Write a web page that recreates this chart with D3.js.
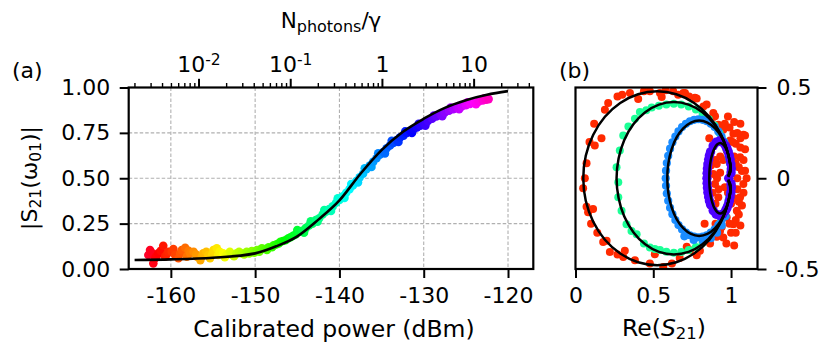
<!DOCTYPE html>
<html><head><meta charset="utf-8">
<style>body{margin:0;background:#fff}</style>
</head><body>
<svg width="822" height="344" font-family="DejaVu Sans"></svg>
<script src="https://cdn.jsdelivr.net/npm/d3@7"></script>
<script>
// ---- panel (a): |S21| against calibrated power ----
var lowDots = [[-162.67,0.077],[-162.47,0.104],[-162.3,0.09],[-162.08,0.031],[-161.88,0.059],[-161.7,0.07],[-161.49,0.086],[-161.2,0.10],[-160.9,0.128],[-160.69,0.068],[-160.5,0.08],[-160.3,0.095],[-159.9,0.095],[-159.7,0.11],[-159.5,0.077],[-159.1,0.059],[-158.9,0.085],[-158.7,0.104],[-158.3,0.117],[-158.1,0.068],[-157.9,0.10],[-157.7,0.086],[-157.3,0.095],[-157.0,0.08],[-156.9,0.068],[-156.5,0.049],[-156.3,0.07],[-156.15,0.086],[-155.8,0.095],[-155.55,0.077],[-155.35,0.059],[-155.1,0.08],[-154.95,0.104],[-154.55,0.114],[-154.4,0.077],[-154.2,0.095],[-153.8,0.086],[-153.6,0.065],[-153.4,0.077],[-153.0,0.095],[-152.8,0.080],[-152.5,0.07],[-152.2,0.086],[-151.9,0.095],[-151.6,0.086],[-151.3,0.08],[-151.0,0.095],[-150.7,0.085],[-150.4,0.099],[-150.1,0.09],[-149.8,0.104],[-149.5,0.095],[-149.2,0.114],[-148.8,0.110],[-148.6,0.105],[-148.4,0.120],[-148.0,0.12],[-147.8,0.130],[-147.5,0.135],[-147.2,0.141],[-147.0,0.15],[-146.7,0.154],[-146.4,0.158],[-146.1,0.168],[-145.8,0.175],[-145.5,0.183]];
var bandDots = [[-145.2,0.19],[-145.0,0.215],[-144.8,0.205],[-144.4,0.21],[-144.2,0.20],[-144.0,0.225],[-143.6,0.24],[-143.4,0.263],[-143.2,0.25],[-142.8,0.27],[-142.6,0.26],[-142.4,0.28],[-142.0,0.30],[-141.8,0.325],[-141.6,0.315],[-141.2,0.33],[-141.0,0.32],[-140.8,0.345],[-140.4,0.365],[-140.2,0.39],[-140.0,0.38],[-139.6,0.40],[-139.4,0.392],[-139.2,0.42],[-138.8,0.44],[-138.6,0.468],[-138.4,0.46],[-138.0,0.485],[-137.8,0.477],[-137.6,0.505],[-137.2,0.525],[-137.0,0.555],[-136.8,0.55],[-136.4,0.57],[-136.2,0.562],[-136.0,0.59],[-135.6,0.61],[-135.4,0.638],[-135.2,0.63],[-134.8,0.645],[-134.6,0.637],[-134.4,0.665],[-134.0,0.68],[-133.8,0.706],[-133.6,0.695],[-133.2,0.71],[-133.0,0.70],[-132.8,0.725],[-132.4,0.735],[-132.2,0.758],[-132.0,0.75],[-131.6,0.76],[-131.4,0.75],[-131.2,0.77],[-130.8,0.78],[-130.6,0.80],[-130.4,0.79],[-130.0,0.80],[-129.8,0.79],[-129.5,0.815],[-129.0,0.828],[-128.8,0.846],[-128.5,0.84],[-128.0,0.85],[-127.8,0.842],[-127.5,0.862],[-127.0,0.872],[-126.8,0.89],[-126.5,0.88],[-126.0,0.888],[-125.8,0.88],[-125.5,0.896],[-125.0,0.903],[-124.8,0.918],[-124.5,0.91],[-124.0,0.916],[-123.8,0.908],[-123.5,0.922],[-123.0,0.928],[-122.8,0.94],[-122.6,0.933],[-122.3,0.936]];
var fitA = [[-164.3,0.050],[-160,0.053],[-155,0.062],[-150,0.086],[-147.5,0.125],[-145,0.180],[-142.5,0.272],[-140,0.378],[-137.5,0.525],[-135,0.655],[-132.5,0.755],[-130,0.828],[-127.5,0.888],[-125,0.930],[-122.5,0.960],[-120,0.980]];
var powerTicks = [-160, -150, -140, -130, -120];
var magTicks = [0, 0.25, 0.5, 0.75, 1];
var photonTicks = [0.01, 0.1, 1, 10];
var photonLabels = [["10","-2"],["10","-1"],["1",""],["10",""]];

// ---- panel (b): S21 in the complex plane ----
var redDots = [[0.21,0.415],[0.189,0.378],[0.35,0.47],[0.403,0.437],[0.478,0.479],[0.543,0.47],[0.628,0.479],[0.693,0.47],[0.768,0.443],[0.822,0.396],[0.886,0.36],[0.918,0.295],[0.95,0.267],[0.167,0.221],[0.071,0.083],[0.049,-0.055],[0.071,-0.157],[0.178,-0.351],[0.221,-0.406],[0.307,-0.434],[0.382,-0.452],[0.478,-0.47],[0.564,-0.489],[0.715,-0.378],[0.779,-0.424],[0.843,-0.341],[0.908,-0.323],[0.94,-0.268],[0.554,0.448],[0.124,0.18],[0.081,-0.188],[0.113,-0.17],[0.2,-0.345],[0.317,-0.4],[0.51,-0.419],[0.27,0.45],[0.12,0.3],[0.09,0.2],[0.06,0.0],[0.1,-0.25],[0.14,-0.3],[0.27,-0.42],[0.62,-0.47],[0.67,-0.44],[0.3,0.46],[0.44,0.48],[0.58,0.485],[0.66,0.46],[0.73,0.45],[0.704,0.47],[0.843,0.406],[0.897,0.341],[1.079,0.24],[0.736,-0.397],[0.865,-0.36],[1.09,0.236],[1.015,0.245],[1.058,0.116],[1.09,0.042],[1.079,-0.032],[1.058,-0.105],[1.037,-0.179],[1.015,-0.253],[0.908,0.079],[0.897,-0.032],[0.918,-0.105],[0.886,0.024],[0.972,0.153],[0.972,-0.216],[0.929,-0.29],[0.95,-0.326],[0.8,-0.4],[0.779,0.439],[0.886,0.338],[0.94,0.273],[0.994,0.208],[1.03,0.19],[1.05,0.06],[1.04,-0.06],[1.02,0.12],[1.0,-0.14],[1.03,-0.23],[1.06,0.17],[0.99,0.28],[1.04,0.0],[1.07,-0.15],[1.0,0.05],[0.96,-0.05],[0.93,0.03],[0.9,0.1],[0.92,-0.06],[0.88,-0.08],[0.95,0.1],[1.01,-0.05],[1.06,0.22],[1.02,0.31],[0.98,0.34],[1.05,-0.2],[1.0,-0.3],[0.97,-0.36],[0.9,-0.25],[0.87,-0.15],[1.08,0.1],[1.1,0.0],[1.06,-0.26],[0.92,0.2],[1.03,0.08],[1.07,0.04],[1.02,-0.11],[1.05,-0.13],[1.08,-0.08],[1.04,0.25],[1.01,0.2],[1.03,-0.3],[0.99,-0.25],[0.91,0.0],[0.9,-0.14],[0.93,0.12],[0.87,0.07],[0.98,-0.08],[1.09,0.16],[1.06,0.3],[1.02,-0.37],[0.83,-0.25],[0.86,0.22],[0.96,0.3]];
var greenDots = [[0.999,0.054],[0.989,0.106],[0.974,0.157],[0.952,0.205],[0.926,0.25],[0.894,0.29],[0.857,0.325],[0.817,0.355],[0.774,0.379],[0.728,0.396],[0.68,0.407],[0.632,0.41],[0.584,0.407],[0.536,0.4],[0.49,0.39],[0.455,0.375],[0.414,0.365],[0.382,0.328],[0.34,0.285],[0.307,0.236],[0.285,0.153],[0.264,0.061],[0.275,-0.022],[0.275,-0.105],[0.296,-0.179],[0.328,-0.253],[0.36,-0.29],[0.393,-0.308],[0.44,-0.36],[0.478,-0.382],[0.51,-0.39],[0.543,-0.395],[0.584,-0.405],[0.632,-0.41],[0.68,-0.407],[0.728,-0.396],[0.774,-0.379],[0.817,-0.355],[0.857,-0.325],[0.894,-0.29],[0.926,-0.25],[0.952,-0.205],[0.974,-0.157],[0.989,-0.106],[0.999,-0.054]];
var blueDots = [[0.998,0.042],[0.993,0.084],[0.984,0.124],[0.972,0.163],[0.957,0.198],[0.939,0.230],[0.918,0.258],[0.895,0.282],[0.870,0.300],[0.844,0.314],[0.817,0.322],[0.790,0.325],[0.763,0.322],[0.736,0.314],[0.710,0.300],[0.685,0.282],[0.662,0.258],[0.642,0.230],[0.623,0.198],[0.608,0.163],[0.596,0.124],[0.587,0.084],[0.582,0.042],[0.580,0],[0.582,-0.042],[0.587,-0.084],[0.596,-0.124],[0.608,-0.163],[0.623,-0.198],[0.642,-0.230],[0.662,-0.258],[0.685,-0.282],[0.710,-0.300],[0.736,-0.314],[0.763,-0.322],[0.790,-0.325],[0.817,-0.322],[0.844,-0.314],[0.870,-0.300],[0.895,-0.282],[0.918,-0.258],[0.939,-0.230],[0.957,-0.198],[0.972,-0.163],[0.984,-0.124],[0.993,-0.084],[0.998,-0.042],[0.76,-0.34],[0.82,-0.345],[0.87,-0.33],[0.91,-0.30],[0.94,-0.26],[0.965,-0.21],[0.7,-0.32]];
var purpleDots = [[0.985,0.0],[1.0,0.03],[1.002,0.053],[0.999,0.078],[0.994,0.103],[0.989,0.125],[0.982,0.145],[0.974,0.163],[0.965,0.178],[0.946,0.198],[0.925,0.205],[0.904,0.198],[0.885,0.178],[0.868,0.145],[0.861,0.125],[0.856,0.103],[0.851,0.078],[0.848,0.053],[0.846,0.027],[0.845,0],[0.846,-0.027],[0.848,-0.053],[0.851,-0.078],[0.856,-0.103],[0.861,-0.125],[0.868,-0.145],[0.885,-0.178],[0.904,-0.198],[0.925,-0.205],[0.946,-0.198],[0.965,-0.178],[0.974,-0.163],[0.982,-0.145],[0.989,-0.125],[0.994,-0.103],[0.999,-0.078],[1.002,-0.053],[1.0,-0.03]];
var redFit = [[0.983,0.012],[0.996,0.0625],[0.984,0.124],[0.936,0.240],[0.861,0.339],[0.7625,0.415],[0.648,0.463],[0.525,0.479],[0.402,0.463],[0.2875,0.415],[0.189,0.339],[0.114,0.240],[0.066,0.124],[0.050,0],[0.066,-0.124],[0.114,-0.240],[0.189,-0.339],[0.2875,-0.415],[0.402,-0.463],[0.525,-0.479],[0.648,-0.463],[0.7625,-0.415],[0.861,-0.339],[0.936,-0.240],[0.984,-0.124],[0.996,-0.0625],[0.983,-0.012]];
var greenFit = [[0.983,0.012],[0.997,0.055],[0.988,0.109],[0.951,0.21],[0.892,0.297],[0.816,0.364],[0.727,0.406],[0.632,0.42],[0.537,0.406],[0.448,0.364],[0.372,0.297],[0.313,0.21],[0.277,0.109],[0.264,0],[0.277,-0.109],[0.313,-0.21],[0.372,-0.297],[0.448,-0.364],[0.537,-0.406],[0.632,-0.42],[0.727,-0.406],[0.816,-0.364],[0.892,-0.297],[0.951,-0.21],[0.988,-0.109],[0.997,-0.055],[0.983,-0.012]];
var blueFit = [[0.983,0.01],[0.998,0.042],[0.993,0.082],[0.9725,0.159],[0.94,0.225],[0.8975,0.275],[0.848,0.307],[0.795,0.318],[0.742,0.307],[0.6925,0.275],[0.65,0.225],[0.6175,0.159],[0.597,0.082],[0.59,0],[0.597,-0.082],[0.6175,-0.159],[0.65,-0.225],[0.6925,-0.275],[0.742,-0.307],[0.795,-0.318],[0.848,-0.307],[0.8975,-0.275],[0.94,-0.225],[0.9725,-0.159],[0.993,-0.082],[0.998,-0.042],[0.983,-0.01]];
var purpleFit = [[0.983,0.006],[0.9976,0.05],[0.9906,0.097],[0.9795,0.137],[0.965,0.168],[0.948,0.187],[0.93,0.194],[0.912,0.187],[0.895,0.168],[0.8805,0.137],[0.869,0.097],[0.862,0.05],[0.86,0],[0.862,-0.05],[0.869,-0.097],[0.8805,-0.137],[0.895,-0.168],[0.912,-0.187],[0.93,-0.194],[0.948,-0.187],[0.965,-0.168],[0.9795,-0.137],[0.9906,-0.097],[0.9976,-0.05],[0.983,-0.006]];
var reTicks = [0, 0.5, 1];
var imTicks = [-0.5, 0, 0.5];

var svg = d3.select("svg");
var TOP = 87.5, BOT = 269;

// scales
var x = d3.scaleLinear().domain([-165, -117]).range([128.7, 533.3]);
var y = d3.scaleLinear().domain([0, 1]).range([BOT, TOP]);
var xn = d3.scaleLog().domain([0.00171, 44.2]).range([128.7, 533.3]);
var hue = d3.scaleLinear()
    .domain([-162.7, -161.5, -153.9, -146.4, -138.9, -131.5, -124.1, -122.3])
    .range([-10, 0, 60, 120, 180, 240, 300, 315]);
function colour(p) { return d3.hsl((hue(p) + 360) % 360, 1, 0.5).toString(); }

var xb = d3.scaleLinear().domain([0, 1.17]).range([575.5, 757.5]);
var yb = d3.scaleLinear().domain([-0.5, 0.5]).range([BOT, TOP]);

// ---------- panel (a) ----------
var ga = svg.append("g");

// grid
ga.append("g").selectAll("line").data(powerTicks).enter().append("line")
    .attr("x1", d => x(d)).attr("x2", d => x(d)).attr("y1", TOP).attr("y2", BOT);
ga.append("g").selectAll("line").data(magTicks.slice(1, 4)).enter().append("line")
    .attr("x1", x(-165)).attr("x2", x(-117)).attr("y1", d => y(d)).attr("y2", d => y(d));
ga.selectAll("line").attr("stroke", "#b0b0b0").attr("stroke-width", 1.1).attr("stroke-dasharray", "3.5,2");

var allDots = lowDots.concat(bandDots);
ga.append("g").selectAll("circle").data(allDots).enter().append("circle")
    .attr("cx", d => x(d[0])).attr("cy", d => y(d[1])).attr("r", 4.3)
    .attr("fill", d => colour(d[0]));

ga.append("path").datum(fitA)
    .attr("fill", "none").attr("stroke", "#000").attr("stroke-width", 2.6)
    .attr("d", d3.line().x(d => x(d[0])).y(d => y(d[1])).curve(d3.curveMonotoneX));

function styleAxis(g, size) {
    g.select(".domain").remove();
    g.selectAll(".tick line").attr("stroke-width", 2);
    g.selectAll("text").attr("font-size", size).attr("fill", "#000").attr("font-family", "DejaVu Sans");
}

ga.append("g").attr("transform", "translate(0," + BOT + ")")
    .call(d3.axisBottom(x).tickValues(powerTicks).tickSize(9).tickPadding(9.5).tickFormat(d => String(d)))
    .call(g => styleAxis(g, 22));
ga.append("g").attr("transform", "translate(128.7,0)")
    .call(d3.axisLeft(y).tickValues(magTicks).tickSize(9).tickPadding(9.5).tickFormat(d3.format(".2f")))
    .call(g => styleAxis(g, 22));

// top log axis: minor ticks from the scale, majors longer
var logTicks = xn.ticks();
var gt = ga.append("g").attr("transform", "translate(0," + TOP + ")");
gt.selectAll("line").data(logTicks).enter().append("line")
    .attr("x1", d => xn(d)).attr("x2", d => xn(d)).attr("y1", 0)
    .attr("y2", d => photonTicks.indexOf(d) >= 0 ? -8.7 : -4.5)
    .attr("stroke", "#000").attr("stroke-width", d => photonTicks.indexOf(d) >= 0 ? 2 : 1.4);
var tl = gt.selectAll("text").data(photonTicks).enter().append("text")
    .attr("x", d => xn(d)).attr("y", -15.5).attr("text-anchor", "middle").attr("font-size", 22);
tl.append("tspan").text((d, i) => photonLabels[i][0]);
tl.append("tspan").attr("font-size", 15.5).attr("dy", -7).text((d, i) => photonLabels[i][1]);

ga.append("rect").attr("x", 128.7).attr("y", TOP).attr("width", 533.3 - 128.7).attr("height", BOT - TOP)
    .attr("fill", "none").attr("stroke", "#000").attr("stroke-width", 2.2);

// labels (a)
var t1 = svg.append("text").attr("x", 331).attr("y", 28).attr("text-anchor", "middle").attr("font-size", 21.5);
t1.append("tspan").text("N");
t1.append("tspan").attr("font-size", 16).attr("dy", 3.5).text("photons");
t1.append("tspan").attr("dy", -3.5).text("/γ");

svg.append("text").attr("x", 334).attr("y", 337).attr("text-anchor", "middle").attr("font-size", 23.5)
    .text("Calibrated power (dBm)");

var t2 = svg.append("text").attr("transform", "translate(37,178) rotate(-90)")
    .attr("text-anchor", "middle").attr("font-size", 22);
t2.append("tspan").text("|S");
t2.append("tspan").attr("font-size", 15.5).attr("dy", 4).text("21");
t2.append("tspan").attr("dy", -4).text("(ω");
t2.append("tspan").attr("font-size", 15.5).attr("dy", 4).text("01");
t2.append("tspan").attr("dy", -4).text(")|");

svg.append("text").attr("x", 12).attr("y", 78).attr("font-size", 22).text("(a)");

// ---------- panel (b) ----------
var gb = svg.append("g");
svg.append("clipPath").attr("id", "clipb").append("rect")
    .attr("x", 575.5).attr("y", TOP).attr("width", 757.5 - 575.5).attr("height", BOT - TOP);
var inner = gb.append("g").attr("clip-path", "url(#clipb)");

var traces = [
    { dots: redDots, fit: redFit, color: "#ff2a00", r: 4 },
    { dots: greenDots, fit: greenFit, color: "#1cff96", r: 4 },
    { dots: blueDots, fit: blueFit, color: "#1a8cff", r: 4.1 },
    { dots: purpleDots, fit: purpleFit, color: "#4d00ff", r: 4.7 }
];
traces.forEach(function(t) {
    inner.append("g").selectAll("circle").data(t.dots).enter().append("circle")
        .attr("cx", d => xb(d[0])).attr("cy", d => yb(d[1]))
        .attr("r", t.r).attr("fill", t.color);
});
var fitLine = d3.line().x(d => xb(d[0])).y(d => yb(d[1])).curve(d3.curveCatmullRom);
traces.forEach(function(t) {
    inner.append("path").datum(t.fit).attr("fill", "none").attr("stroke", "#000")
        .attr("stroke-width", 2.5).attr("d", fitLine);
});

gb.append("g").attr("transform", "translate(0," + BOT + ")")
    .call(d3.axisBottom(xb).tickValues(reTicks).tickSize(9).tickPadding(9.5).tickFormat(d => String(d)))
    .call(g => styleAxis(g, 22));
gb.append("g").attr("transform", "translate(757.5,0)")
    .call(d3.axisRight(yb).tickValues(imTicks).tickSize(9).tickPadding(10).tickFormat(d => String(d)))
    .call(g => styleAxis(g, 22));
gb.append("rect").attr("x", 575.5).attr("y", TOP).attr("width", 757.5 - 575.5).attr("height", BOT - TOP)
    .attr("fill", "none").attr("stroke", "#000").attr("stroke-width", 2.2);

var t3 = svg.append("text").attr("x", 664).attr("y", 336).attr("text-anchor", "middle").attr("font-size", 23.5);
t3.append("tspan").text("Re(");
t3.append("tspan").attr("font-style", "italic").text("S");
t3.append("tspan").attr("font-size", 16.5).attr("dy", 3).text("21");
t3.append("tspan").attr("dy", -3).text(")");

svg.append("text").attr("x", 559).attr("y", 78).attr("font-size", 22).text("(b)");
</script>
</body></html>
